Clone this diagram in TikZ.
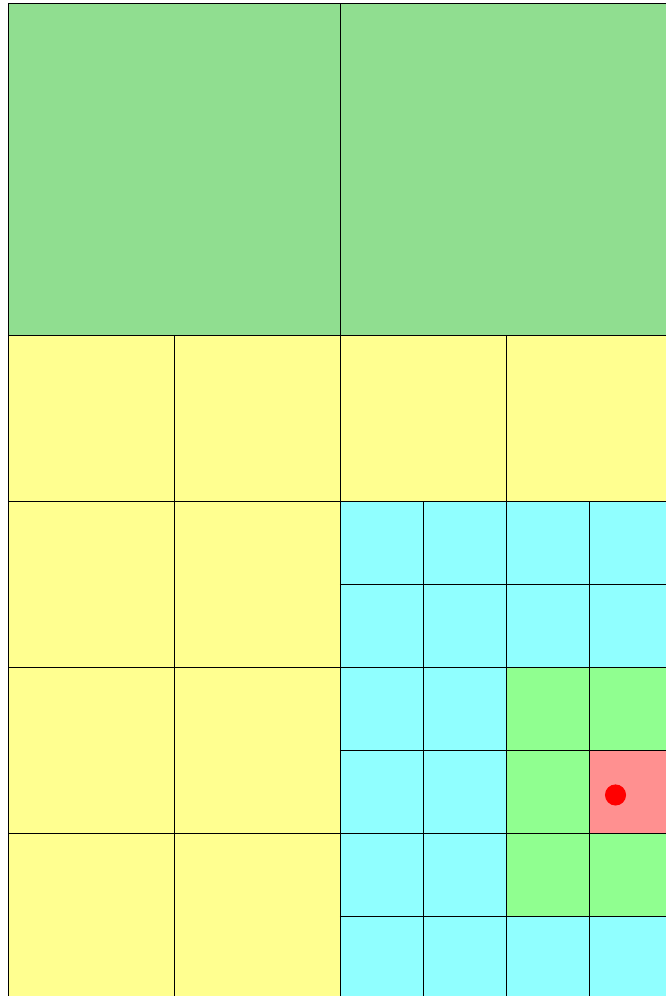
\documentclass[tikz,border=0pt]{standalone}
\usepackage{xcolor}
\usepackage{tikz}

\definecolor{coarsegreen}{RGB}{144,222,144}
\definecolor{midyellow}{RGB}{255,255,144}
\definecolor{finecyan}{RGB}{144,255,255}
\definecolor{neargreen}{RGB}{144,255,144}
\definecolor{hitpink}{RGB}{255,144,144}

\tikzset{
  cell/.style={draw=black, line width=0.3pt, fill=#1},
  querypt/.style={fill=red}
}

\begin{document}
\begin{tikzpicture}

\useasboundingbox (-0.096,0.036) rectangle (7.928,12.036);
\clip (-0.096,0.036) rectangle (7.928,12.036);

% Coarse level (two big cells on top)
\path[cell=coarsegreen] (0,8) rectangle (4,12);
\path[cell=coarsegreen] (4,8) rectangle (8,12);

% Middle level
\foreach \x/\y in {0/6,2/6,4/6,6/6,0/4,2/4,0/2,2/2,0/0,2/0}
  \path[cell=midyellow] (\x,\y) rectangle ++(2,2);

% Fine level, with the neighbourhood of the hit cell
\fill[finecyan] (4,0) rectangle (8,6);
\fill[neargreen] (6,1) rectangle (8,4);
\fill[hitpink] (7,2) rectangle (8,3);
\draw[line width=0.3pt] (4,0) grid (8,6);

% Query point
\fill[querypt] (7.32,2.458) circle (0.127);

\end{tikzpicture}
\end{document}
